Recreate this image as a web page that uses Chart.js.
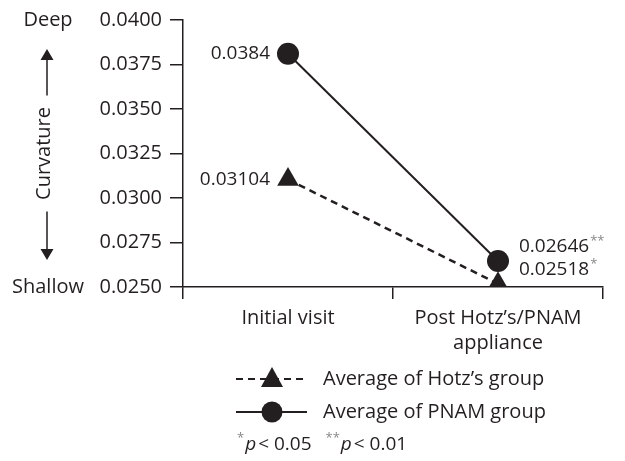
<!DOCTYPE html>
<html>
<head>
<meta charset="utf-8">
<script src="https://cdn.jsdelivr.net/npm/chart.js@4.4.1/dist/chart.umd.min.js"></script>
<style>
  html, body { margin: 0; padding: 0; background: #fff; }
  #wrap { width: 625px; height: 461px; }
</style>
</head>
<body>
<div id="wrap"><canvas id="curvature-chart"></canvas></div>
<script>
var categories = ['Initial visit', ['Post Hotz\u2019s/PNAM', 'appliance']];
var hotzValues = [0.03104, 0.02518];
var pnamValues = [0.0381, 0.02646];
var hotzLabels = ['0.03104', '0.02518'];
var pnamLabels = ['0.0384', '0.02646'];
var hotzStars = ['', '*'];
var pnamStars = ['', '**'];
var seriesNames = ['Average of Hotz\u2019s group', 'Average of PNAM group'];

var ink = '#231f20';
var starInk = '#888';
var fontFamily = '"Open Sans", "Noto Sans", sans-serif';
Chart.defaults.font.family = fontFamily;
Chart.defaults.color = ink;

// value labels next to points
var valueLabels = {
    id: 'valueLabels',
    afterDatasetsDraw: function (chart) {
        var ctx = chart.ctx;
        ctx.save();
        ctx.fillStyle = ink;
        ctx.textBaseline = 'middle';
        var drawLabel = function (text, stars, x, y, align) {
            ctx.font = '19px ' + fontFamily;
            ctx.textAlign = align;
            ctx.fillText(text, x, y);
            if (stars) {
                var w = ctx.measureText(text).width;
                ctx.font = '13px ' + fontFamily;
                ctx.textAlign = 'left';
                ctx.fillStyle = starInk;
                ctx.fillText(stars, x + w + 1, y - 6);
                ctx.fillStyle = ink;
            }
        };
        var hotz = chart.getDatasetMeta(0).data;
        var pnam = chart.getDatasetMeta(1).data;
        drawLabel(hotzLabels[0], '', hotz[0].x - 18, hotz[0].y, 'right');
        drawLabel(pnamLabels[0], '', pnam[0].x - 18, pnam[0].y, 'right');
        drawLabel(pnamLabels[1], pnamStars[1], pnam[1].x + 21, pnam[1].y - 14, 'left');
        drawLabel(hotzLabels[1], hotzStars[1], pnam[1].x + 21, pnam[1].y + 9, 'left');
        ctx.restore();
    }
};

// y axis title with Deep / Shallow and arrows, legend and footnote
var decorations = {
    id: 'decorations',
    afterDraw: function (chart) {
        var ctx = chart.ctx;
        var y = chart.scales.y;
        var top = y.getPixelForValue(0.04);
        var bottom = y.getPixelForValue(0.025);
        var mid = (top + bottom) / 2;
        var ax = 47;
        ctx.save();
        ctx.fillStyle = ink;
        ctx.strokeStyle = ink;
        ctx.font = '20px ' + fontFamily;
        ctx.textBaseline = 'middle';
        ctx.textAlign = 'center';
        ctx.fillText('Deep', 48, top);
        ctx.fillText('Shallow', 48, bottom);

        ctx.save();
        ctx.translate(44, mid);
        ctx.rotate(-Math.PI / 2);
        ctx.fillText('Curvature', 0, 0);
        ctx.restore();

        ctx.lineWidth = 1.5;
        ctx.beginPath();
        ctx.moveTo(ax, mid - 58);
        ctx.lineTo(ax, top + 38);
        ctx.moveTo(ax, mid + 58);
        ctx.lineTo(ax, bottom - 38);
        ctx.stroke();
        ctx.beginPath();
        ctx.moveTo(ax, top + 29);
        ctx.lineTo(ax - 6.5, top + 40);
        ctx.lineTo(ax + 6.5, top + 40);
        ctx.closePath();
        ctx.moveTo(ax, bottom - 27);
        ctx.lineTo(ax - 6.5, bottom - 38);
        ctx.lineTo(ax + 6.5, bottom - 38);
        ctx.closePath();
        ctx.fill();

        // legend
        var lx = 236, lw = 71;
        var rows = [379, 412];
        ctx.lineWidth = 2;
        ctx.beginPath();
        ctx.setLineDash([7, 5]);
        ctx.moveTo(lx, rows[0]);
        ctx.lineTo(lx + lw, rows[0]);
        ctx.stroke();
        ctx.setLineDash([]);
        ctx.beginPath();
        ctx.moveTo(lx, rows[1]);
        ctx.lineTo(lx + lw, rows[1]);
        ctx.stroke();
        var cx = 272;
        ctx.beginPath();
        ctx.moveTo(cx, rows[0] - 12);
        ctx.lineTo(cx - 11, rows[0] + 8);
        ctx.lineTo(cx + 11, rows[0] + 8);
        ctx.closePath();
        ctx.fill();
        ctx.beginPath();
        ctx.arc(cx, rows[1], 10.5, 0, Math.PI * 2);
        ctx.fill();
        ctx.textAlign = 'left';
        ctx.fillText(seriesNames[0], 323, rows[0]);
        ctx.fillText(seriesNames[1], 323, rows[1]);

        // footnote
        var fy = 445;
        var fx = 237;
        ctx.font = '13px ' + fontFamily;
        ctx.fillStyle = starInk;
        ctx.fillText('*', fx, fy - 7);
        fx += ctx.measureText('*').width + 1;
        ctx.fillStyle = ink;
        ctx.font = 'italic 19px ' + fontFamily;
        ctx.fillText('p', fx, fy);
        fx += ctx.measureText('p').width + 2;
        ctx.font = '19px ' + fontFamily;
        ctx.fillText('< 0.05', fx, fy);
        fx += ctx.measureText('< 0.05').width + 14;
        ctx.font = '13px ' + fontFamily;
        ctx.fillStyle = starInk;
        ctx.fillText('**', fx, fy - 7);
        fx += ctx.measureText('**').width + 1;
        ctx.fillStyle = ink;
        ctx.font = 'italic 19px ' + fontFamily;
        ctx.fillText('p', fx, fy);
        fx += ctx.measureText('p').width + 2;
        ctx.font = '19px ' + fontFamily;
        ctx.fillText('< 0.01', fx, fy);
        ctx.restore();
    }
};

var ctx = document.getElementById('curvature-chart').getContext('2d');
var chart = new Chart(ctx, {
    type: 'line',
    data: {
        labels: categories,
        datasets: [{
            label: seriesNames[0],
            data: hotzValues,
            borderColor: ink,
            backgroundColor: ink,
            borderWidth: 2.5,
            borderDash: [7, 5],
            pointStyle: 'triangle',
            pointRadius: 12.5,
            pointBorderWidth: 0,
            tension: 0
        }, {
            label: seriesNames[1],
            data: pnamValues,
            borderColor: ink,
            backgroundColor: ink,
            borderWidth: 2,
            pointStyle: 'circle',
            pointRadius: 11,
            pointBorderWidth: 0,
            tension: 0
        }]
    },
    options: {
        responsive: true, maintainAspectRatio: false, animation: false,
        layout: {padding: {left: 0, right: 22, top: 18, bottom: 100}},
        plugins: {
            legend: {display: false},
            tooltip: {enabled: false}
        },
        scales: {
            x: {
                offset: true,
                grid: {offset: true, drawOnChartArea: false, color: ink, tickLength: 12, lineWidth: 1.5},
                border: {color: ink, width: 1.5},
                ticks: {font: {size: 20, lineHeight: 1.25}, color: ink, padding: 7, maxRotation: 0},
                afterFit: function (scale) { scale.height = 74; }
            },
            y: {
                min: 0.025, max: 0.04,
                grid: {drawOnChartArea: false, color: ink, tickLength: 13, lineWidth: 1.5},
                border: {color: ink, width: 1.5},
                ticks: {
                    stepSize: 0.0025, font: {size: 20}, color: ink, padding: 8,
                    callback: function (v) { return v.toFixed(4); }
                },
                afterFit: function (scale) { scale.width = 183; }
            }
        }
    },
    plugins: [valueLabels, decorations]
});
</script>
</body>
</html>
